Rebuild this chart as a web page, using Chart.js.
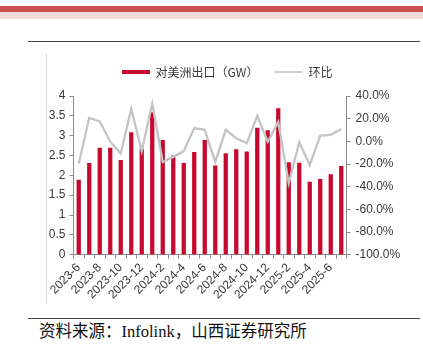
<!DOCTYPE html>
<html><head><meta charset="utf-8">
<script src="https://cdn.jsdelivr.net/npm/chart.js@4/dist/chart.umd.min.js"></script>
<style>
html,body{margin:0;padding:0;background:#fff;width:423px;height:356px;overflow:hidden;position:relative}
#band1{position:absolute;left:0;top:6px;width:423px;height:6px;background:#C9514F}
#band2{position:absolute;left:0;top:12px;width:423px;height:7px;background:#F2DBDB}
#rule1{position:absolute;left:28px;top:40.5px;width:392px;height:1.5px;background:#404040}
#rule2{position:absolute;left:28px;top:317.8px;width:392px;height:1.5px;background:#404040}
#frame{position:absolute;left:46px;top:53px;width:1px;height:251px;background:#DADADA}
#wrap{position:absolute;left:46px;top:50px;width:362px;height:254px}
#src{position:absolute;left:39px;top:321px;font:16.5px "Liberation Serif","Noto Sans CJK SC";color:#111;white-space:nowrap;line-height:22px}
</style></head>
<body>
<div id="band1"></div><div id="band2"></div>
<div id="rule1"></div><div id="rule2"></div>
<div id="frame"></div>
<div id="wrap"><canvas id="c" width="362" height="254"></canvas></div>
<div id="src">资料来源：Infolink，山西证券研究所</div>
<script>
const months = ['2023-6','2023-7','2023-8','2023-9','2023-10','2023-11','2023-12','2024-1','2024-2','2024-3','2024-4','2024-5','2024-6','2024-7','2024-8','2024-9','2024-10','2024-11','2024-12','2025-1','2025-2','2025-3','2025-4','2025-5','2025-6','2025-7'];
const exportGW = [1.88,2.30,2.69,2.69,2.38,3.08,2.66,3.58,2.88,2.49,2.30,2.58,2.88,2.24,2.55,2.65,2.59,3.19,3.13,3.68,2.32,2.31,1.83,1.90,2.02,2.23];
const momPct = [-19.6,20.7,17.6,-0.3,-10.7,28.7,-8.6,33.5,-18.2,-13.7,-8.6,11.7,10.2,-18.2,10.2,2.8,-1.7,22.4,-0.3,17.1,-37.0,-0.8,-21.1,5.1,5.7,10.8];
const leftTicks = ['0','0.5','1','1.5','2','2.5','3','3.5','4'];
const rightTicks = ['-100.0%','-80.0%','-60.0%','-40.0%','-20.0%','0.0%','20.0%','40.0%'];
const seriesNames = ['对美洲出口（GW）','环比'];

const RED = '#C8092F';
const GRAY = '#C4C4C4';
const AXIS = '#8C8C8C';
const TXT = '#3A3A3A';
const FAM = '"Liberation Sans", Arial, "Noto Sans CJK SC", sans-serif';

const redMark = document.createElement('canvas');
redMark.width = 28; redMark.height = 4;
(function(){const g = redMark.getContext('2d'); g.fillStyle = RED; g.fillRect(0,0,28,4);})();

const chart = new Chart(document.getElementById('c'), {
  data: {
    labels: months,
    datasets: [
      {type:'bar', label: seriesNames[0], data: exportGW, backgroundColor: RED, barThickness: 3.6, yAxisID: 'y', order: 2},
      {type:'line', label: seriesNames[1], data: momPct, borderColor: GRAY, borderWidth: 2.3, pointRadius: 0, tension: 0, yAxisID: 'y1', order: 1}
    ]
  },
  options: {
    responsive: false,
    animation: false,
    devicePixelRatio: 1,
    layout: {padding: 0},
    plugins: {
      tooltip: {enabled: false},
      legend: {
        position: 'top',
        labels: {
          usePointStyle: true,
          pointStyleWidth: 28,
          padding: 16,
          color: TXT,
          font: {size: 12, family: '"Noto Sans CJK SC", "Liberation Sans", sans-serif'},
          generateLabels: () => [
            {text: seriesNames[0], pointStyle: redMark, fillStyle: RED, strokeStyle: RED, lineWidth: 0, fontColor: TXT, datasetIndex: 0},
            {text: seriesNames[1], pointStyle: 'line', fillStyle: GRAY, strokeStyle: GRAY, lineWidth: 1.6, fontColor: TXT, datasetIndex: 1}
          ]
        }
      }
    },
    scales: {
      x: {
        offset: true,
        grid: {offset: true, drawOnChartArea: false, drawTicks: true, tickLength: 4, color: AXIS},
        border: {color: AXIS, width: 1},
        ticks: {
          autoSkip: false, minRotation: 45, maxRotation: 45, padding: 2,
          color: TXT, font: {size: 12, family: FAM},
          callback: (v, i) => (i % 2 === 0 ? months[i] : '')
        }
      },
      y: {
        position: 'left', min: 0, max: 4,
        grid: {drawOnChartArea: false, tickLength: 4, color: AXIS},
        border: {color: AXIS, width: 1},
        ticks: {stepSize: 0.5, padding: 4, color: TXT, font: {size: 12, family: FAM},
          callback: (v) => leftTicks[Math.round(v / 0.5)]},
        afterFit: (s) => { s.width = 27.5; }
      },
      y1: {
        position: 'right', min: -100, max: 40,
        grid: {drawOnChartArea: false, tickLength: 4, color: AXIS},
        border: {color: AXIS, width: 1},
        ticks: {stepSize: 20, padding: 5, color: TXT, font: {size: 12, family: FAM},
          callback: (v) => rightTicks[Math.round((v + 100) / 20)]},
        afterFit: (s) => { s.width = 61.5; }
      }
    }
  }
});
const baseFit = chart.legend.fit;
chart.legend.fit = function(){ baseFit.call(this); this.height += 8; };
chart.update();
</script>
</body></html>
